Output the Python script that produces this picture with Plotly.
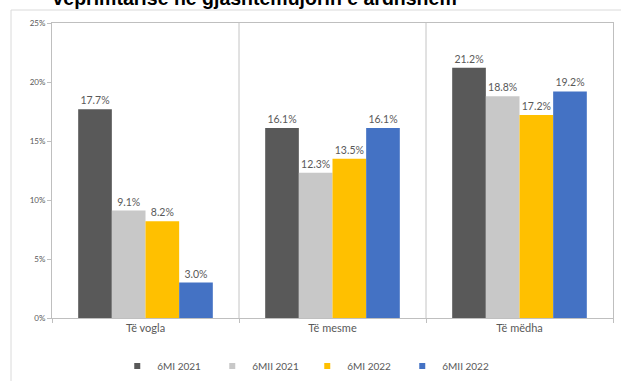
import plotly.graph_objects as go

# Firm size categories and the four survey periods
categories = ["Të vogla", "Të mesme", "Të mëdha"]
series_names = ["6MI 2021", "6MII 2021", "6MI 2022", "6MII 2022"]
values = {
    "6MI 2021": [17.7, 16.1, 21.2],
    "6MII 2021": [9.1, 12.3, 18.8],
    "6MI 2022": [8.2, 13.5, 17.2],
    "6MII 2022": [3.0, 16.1, 19.2],
}
colors = ["#595959", "#c8c8c8", "#ffc000", "#4472c4"]
y_ticks = [0, 5, 10, 15, 20, 25]

FONT = "Lato, 'Open Sans', sans-serif"
TXT = "#595959"

fig = go.Figure()
for name, color in zip(series_names, colors):
    vals = values[name]
    fig.add_trace(go.Bar(
        name=name,
        x=categories,
        y=vals,
        marker=dict(color=color, line=dict(width=0)),
        text=[f"{v:.1f}%" for v in vals],
        textposition="outside",
        textfont=dict(family=FONT, size=10.5, color=TXT),
        cliponaxis=False,
        showlegend=False,
    ))
    # compact square legend entry
    fig.add_trace(go.Scatter(
        name=name, x=[None], y=[None], mode="markers",
        marker=dict(symbol="square", size=6, color=color),
        showlegend=True,
    ))

# vertical separators between size groups
for i in range(1, len(categories)):
    fig.add_shape(type="line", xref="x", yref="y",
                  x0=i - 0.5, x1=i - 0.5, y0=0, y1=y_ticks[-1],
                  line=dict(color="#c4c4c4", width=1), layer="below")

# outer chart border (left and top)
fig.add_shape(type="line", xref="paper", yref="paper",
              x0=-41 / 561, x1=-41 / 561, y0=-63 / 295, y1=1 + 13 / 295,
              line=dict(color="#dadada", width=1))
fig.add_shape(type="line", xref="paper", yref="paper",
              x0=-41 / 561, x1=1 + 8 / 561, y0=1 + 13 / 295, y1=1 + 13 / 295,
              line=dict(color="#dadada", width=1))

fig.update_layout(
    width=621, height=381,
    margin=dict(l=52, r=8, t=23, b=63, autoexpand=False),
    paper_bgcolor="white", plot_bgcolor="white",
    barmode="group", bargap=0.28, bargroupgap=0,
    title=dict(
        text="<b>veprimtarisë në gjashtëmujorin e ardhshëm</b>",
        font=dict(family="'Liberation Sans', Arial, sans-serif", size=19.5, color="#000000"),
        x=0.41, xanchor="center", xref="container",
        y=0.986, yanchor="bottom", yref="container",
        automargin=False,
    ),
    xaxis=dict(
        showline=True, linecolor="#bfbfbf", linewidth=1, mirror=True,
        ticks="outside", tickson="boundaries", ticklen=4, tickcolor="#bfbfbf",
        tickfont=dict(family=FONT, size=11, color=TXT),
        showgrid=False,
    ),
    yaxis=dict(
        range=[0, y_ticks[-1]],
        tickvals=y_ticks, ticktext=[f"{t}%" for t in y_ticks],
        showline=True, linecolor="#bfbfbf", linewidth=1, mirror=True,
        ticks="outside", ticklen=4, tickcolor="#bfbfbf",
        tickfont=dict(family=FONT, size=8, color=TXT),
        showgrid=False, zeroline=False,
    ),
    legend=dict(
        orientation="h", x=0.455, xanchor="center",
        y=1 - 366 / 381, yanchor="middle", yref="container",
        font=dict(family=FONT, size=10, color=TXT),
        itemwidth=30, entrywidth=50, entrywidthmode="pixels",
    ),
)

fig.write_html("out.html")
